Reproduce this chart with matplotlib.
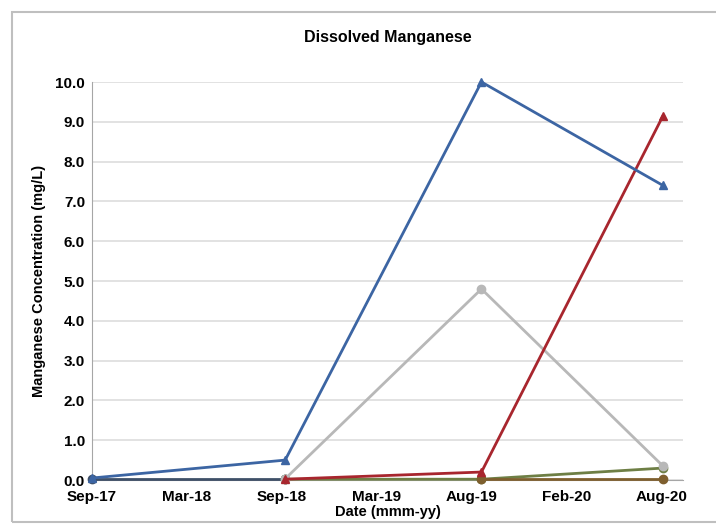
import numpy as np
import pandas as pd
import matplotlib
matplotlib.use("Agg")
import matplotlib.pyplot as plt
import matplotlib.dates as mdates
from matplotlib.patches import Rectangle

plt.rcParams['font.family'] = ['Liberation Sans', 'DejaVu Sans']

# sample dates and dissolved manganese results (mg/L)
dates = pd.to_datetime(['2017-09-08', '2018-09-09', '2019-09-16', '2020-08-25'])
well_a = [0.05, 0.5, 10.0, 7.4]
well_b = [0.03, 0.03, np.nan, np.nan]
well_c = [np.nan, 0.03, 4.8, 0.35]
well_d = [np.nan, 0.02, 0.2, 9.15]
well_e = [np.nan, 0.02, 0.02, 0.3]
well_f = [np.nan, np.nan, 0.03, 0.03]

series = [
    (well_b, '#3F5068', 'o'),
    (well_e, '#6E7F45', 'o'),
    (well_f, '#7E5F2E', 'o'),
    (well_c, '#B8B8B8', 'o'),
    (well_d, '#A8262E', '^'),
    (well_a, '#3C65A3', '^'),
]

fig = plt.figure(figsize=(7.16, 5.25), dpi=100)
ax = fig.add_axes([0.1285, 0.0857, 0.8255, 0.7581])

for vals, col, mk in series:
    s = pd.Series(vals, index=dates).dropna()
    ax.plot(s.index, s.values, color=col, lw=2.0, marker=mk, ms=6,
            markeredgecolor=col, zorder=3, clip_on=False)

start = pd.Timestamp('2017-09-08')
ticks = [start + pd.Timedelta(days=180 * i) for i in range(7)]
ax.set_xticks(ticks)
ax.xaxis.set_major_formatter(mdates.DateFormatter('%b-%y'))
ax.set_xlim(start, start + pd.Timedelta(days=1120))
ax.set_ylim(0, 10)
ax.set_yticks(np.arange(0, 10.1, 1.0))
ax.set_yticklabels([f'{v:.1f}' for v in np.arange(0, 10.1, 1.0)])

ax.grid(axis='y', color='#DDDDDD', lw=1.2)
ax.set_axisbelow(True)
for side in ['top', 'right']:
    ax.spines[side].set_visible(False)
ax.spines['left'].set_color('#A6A6A6')
ax.spines['bottom'].set_color('#A6A6A6')
ax.tick_params(axis='both', length=0, labelsize=11)
ax.tick_params(axis='x', pad=7)
ax.tick_params(axis='y', pad=5)
for lab in ax.get_xticklabels() + ax.get_yticklabels():
    lab.set_fontweight('bold')

ax.set_title('Dissolved Manganese', fontsize=11.5, fontweight='bold', pad=29)
ax.set_xlabel('Date (mmm-yy)', fontsize=10.5, fontweight='bold', labelpad=1)
ax.set_ylabel('Manganese Concentration (mg/L)', fontsize=10.5, fontweight='bold', labelpad=7)

# outer chart border
fig.patches.append(Rectangle((12 / 716, 3 / 525), 720 / 716, 510 / 525,
                             transform=fig.transFigure, fill=False,
                             edgecolor='#BFBFBF', lw=1.5))

fig.savefig('out.png', dpi=100)
